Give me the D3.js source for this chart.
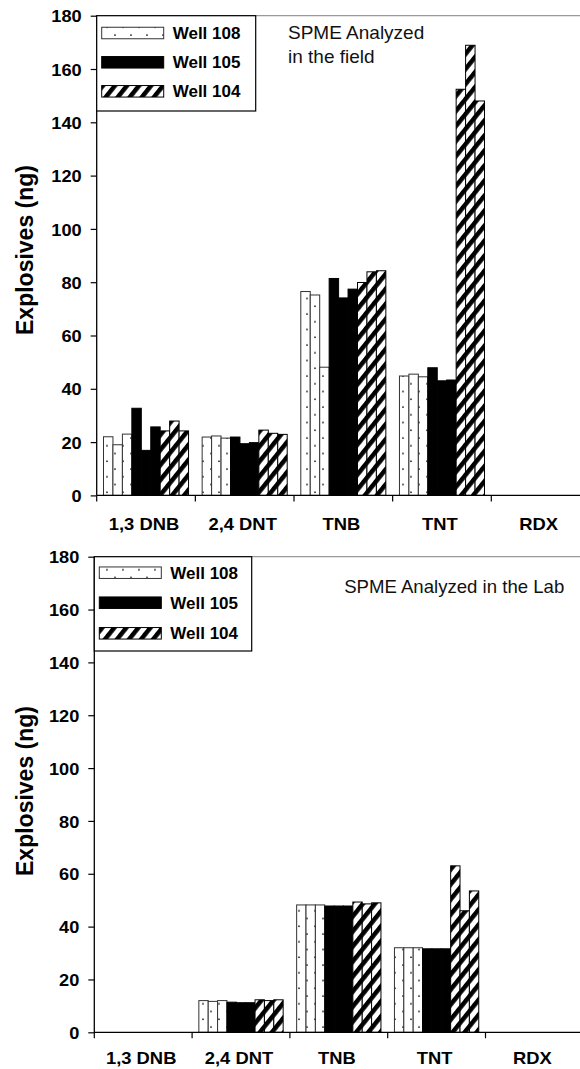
<!DOCTYPE html>
<html><head><meta charset="utf-8">
<script src="https://cdn.jsdelivr.net/npm/d3@7"></script>
<style>
html,body{margin:0;padding:0;background:#fff;}
svg{display:block;font-family:"Liberation Sans",Arial,sans-serif;}
</style></head>
<body>
<svg id="chart" width="580" height="1069"></svg>
<script>
const categories = ["1,3 DNB", "2,4 DNT", "TNB", "TNT", "RDX"];
const wells = ["Well 108", "Well 105", "Well 104"];
const yTicks = [0, 20, 40, 60, 80, 100, 120, 140, 160, 180];

// Field-analyzed replicates (3 per well per compound)
const field108 = [[22, 19, 23], [21.9, 22.3, 21.5], [76.5, 75.2, 48.1], [44.8, 45.5, 44.5], [0, 0, 0]];
const field105 = [[32.7, 16.9, 25.7], [21.9, 19.4, 19.8], [81.4, 74.1, 77.4], [47.9, 43, 43.3], [0, 0, 0]];
const field104 = [[24.2, 27.9, 24.2], [24.5, 23.3, 22.9], [79.9, 83.9, 84.3], [152.4, 168.9, 148], [0, 0, 0]];

// Lab-analyzed replicates
const lab108 = [[0, 0, 0], [12, 11.7, 12], [48.2, 48.2, 48.2], [32, 32, 32], [0, 0, 0]];
const lab105 = [[0, 0, 0], [11.4, 11.2, 11.2], [47.8, 47.8, 47.8], [31.6, 31.6, 31.6], [0, 0, 0]];
const lab104 = [[0, 0, 0], [12.3, 12, 12.3], [49.3, 48.6, 49], [63, 46, 53.5], [0, 0, 0]];

const svg = d3.select("#chart");
const defs = svg.append("defs");

// dotted pattern
const dots = defs.append("pattern").attr("id", "dots").attr("patternUnits", "userSpaceOnUse")
  .attr("width", 16).attr("height", 15.5);
dots.append("rect").attr("width", 16).attr("height", 15.5).attr("fill", "#fff");
dots.append("circle").attr("cx", 3).attr("cy", 4).attr("r", 0.9).attr("fill", "#222");
dots.append("circle").attr("cx", 11).attr("cy", 11.75).attr("r", 0.9).attr("fill", "#222");

// hatched pattern "/"
const hatch = defs.append("pattern").attr("id", "hatch").attr("patternUnits", "userSpaceOnUse")
  .attr("width", 9.4).attr("height", 20).attr("patternTransform", "rotate(38.7)");
hatch.append("rect").attr("width", 9.4).attr("height", 20).attr("fill", "#fff");
hatch.append("rect").attr("width", 4.5).attr("height", 20).attr("fill", "#000");

const fills = ["url(#dots)", "#000", "url(#hatch)"];
const strokes = ["#333", "#000", "#000"];

function stretch(sel, k) {
  sel.each(function() {
    const w = this.getComputedTextLength();
    d3.select(this).attr("textLength", w * k).attr("lengthAdjust", "spacingAndGlyphs");
  });
}

function drawPanel(cfg) {
  const g = svg.append("g");
  const x0 = d3.scaleBand().domain(categories)
    .range([cfg.left, cfg.left + cfg.step * categories.length]).paddingInner(0).paddingOuter(0);
  const series = [0, 1, 2, 3, 4, 5, 6, 7, 8];
  const x1 = d3.scaleBand().domain(series).range([0, x0.bandwidth()]).paddingInner(0).paddingOuter(0.72);
  const y = d3.scaleLinear().domain([0, 180]).range([cfg.bottom, cfg.top]);

  // top frame line
  g.append("line").attr("x1", cfg.left).attr("x2", x0.range()[1]).attr("y1", cfg.top).attr("y2", cfg.top)
    .attr("stroke", "#999").attr("stroke-width", 1.2);

  // bars
  const rows = [];
  categories.forEach((c, ci) => {
    cfg.data.forEach((arr, wi) => {
      arr[ci].forEach((v, ri) => {
        if (v > 0) rows.push({c, v, wi, idx: wi * 3 + ri});
      });
    });
  });
  g.selectAll("rect.bar").data(rows).join("rect").attr("class", "bar")
    .attr("x", d => x0(d.c) + x1(d.idx))
    .attr("width", x1.bandwidth())
    .attr("y", d => y(d.v))
    .attr("height", d => y(0) - y(d.v))
    .attr("fill", d => fills[d.wi])
    .attr("stroke", d => strokes[d.wi])
    .attr("stroke-width", 1);

  // y axis
  const yAxis = d3.axisLeft(y).tickValues(yTicks).tickSize(6).tickPadding(9).tickFormat(d3.format("d"));
  const ya = g.append("g").attr("transform", `translate(${cfg.left},0)`).call(yAxis);
  ya.select(".domain").attr("stroke", "#000").attr("stroke-width", 1.3).attr("d", `M0,${cfg.top}V${cfg.bottom}`);
  ya.selectAll(".tick line").attr("stroke", "#000").attr("stroke-width", 1.2);
  ya.selectAll(".tick text").attr("font-size", 17).attr("font-weight", "bold").attr("fill", "#000")
    .attr("font-family", "Liberation Sans, Arial, sans-serif").attr("dy", "0.36em");
  stretch(ya.selectAll(".tick text"), 1.07);

  // x axis
  const xa = g.append("g").attr("transform", `translate(0,${cfg.bottom})`);
  xa.append("line").attr("x1", cfg.left).attr("x2", x0.range()[1]).attr("stroke", "#000").attr("stroke-width", 1.3);
  const bounds = categories.map(c => x0(c)).concat([x0.range()[1]]);
  xa.selectAll("line.tk").data(bounds).join("line").attr("class", "tk")
    .attr("x1", d => d).attr("x2", d => d).attr("y1", 0).attr("y2", 6)
    .attr("stroke", "#000").attr("stroke-width", 1.2);
  const cl = xa.selectAll("text.cat").data(categories).join("text").attr("class", "cat")
    .attr("x", d => x0(d) + x0.bandwidth() / 2 - 2).attr("y", cfg.catY)
    .attr("text-anchor", "middle").attr("font-size", 17).attr("font-weight", "bold").text(d => d);
  stretch(cl, 1.08);

  // y title
  g.append("text").attr("transform", `translate(32.5,${cfg.titleY}) rotate(-90)`)
    .attr("text-anchor", "middle").attr("font-size", 23).attr("font-weight", "bold").text("Explosives (ng)");

  // legend
  const lg = g.append("g");
  lg.append("rect").attr("x", cfg.left).attr("y", cfg.top).attr("width", cfg.legW).attr("height", cfg.legH)
    .attr("fill", "#fff").attr("stroke", "#000").attr("stroke-width", 1.2);
  wells.forEach((w, i) => {
    const cy = cfg.legRows[i];
    lg.append("rect").attr("x", cfg.left + 5).attr("y", cy - 5.75).attr("width", 62).attr("height", 11.5)
      .attr("fill", fills[i]).attr("stroke", strokes[i]).attr("stroke-width", 1);
    lg.append("text").attr("x", cfg.left + 76).attr("y", cy + 6).attr("font-size", 17)
      .attr("font-weight", "bold").text(w);
  });

  // annotation
  cfg.note.forEach(n => {
    g.append("text").attr("x", n.x).attr("y", n.y).attr("text-anchor", n.anchor)
      .attr("font-size", n.size).attr("fill", "#111").text(n.text);
  });
}

drawPanel({
  left: 96.7, top: 15.7, bottom: 495.4, step: 98.65, titleY: 250, catY: 34.5,
  data: [field108, field105, field104],
  legW: 159, legH: 95.3, legRows: [33, 62.3, 91.3],
  note: [
    {text: "SPME Analyzed", x: 288, y: 39.3, anchor: "start", size: 19},
    {text: "in the field", x: 288, y: 62.7, anchor: "start", size: 19}
  ]
});
drawPanel({
  left: 94.3, top: 556.7, bottom: 1032.3, step: 97.8, titleY: 791, catY: 32,
  data: [lab108, lab105, lab104],
  legW: 157.4, legH: 94.3, legRows: [572.7, 602.7, 633.3],
  note: [
    {text: "SPME Analyzed in the Lab", x: 564.3, y: 592.7, anchor: "end", size: 18.6}
  ]
});
</script>
</body></html>
